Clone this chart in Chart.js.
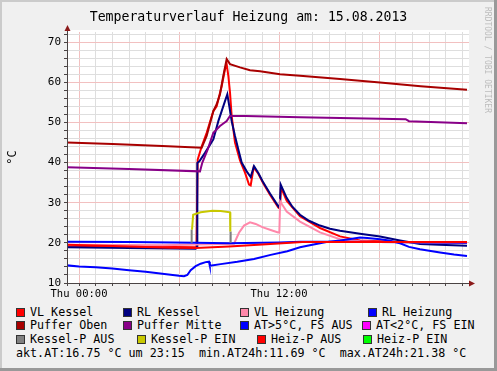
<!DOCTYPE html>
<html lang="de">
<head>
<meta charset="UTF-8">
<title>Temperaturverlauf Heizung</title>
<script src="https://cdn.jsdelivr.net/npm/chart.js"></script>
<style>
  body { margin: 0; background: #f0f0f0; }
  #wrap { position: relative; width: 497px; height: 371px; overflow: hidden; background: #f0f0f0;
          font-family: "DejaVu Sans Mono", monospace; color: #000; }
  #chart { position: absolute; left: 0; top: 0; }
  #title { position: absolute; left: 0; top: 8px; width: 497px; text-align: center; font-size: 13.2px;
           line-height: 17px; white-space: pre; }
  .edge { position: absolute; }
  .item { position: absolute; font-size: 11.7px; line-height: 14px; white-space: pre; }
  .item span.box { display: inline-block; width: 7px; height: 7px; border: 1px solid #333;
                   vertical-align: -1px; margin-right: 5px; }
  #mark { position: absolute; left: 482px; top: 7px; writing-mode: vertical-rl; font-size: 8px;
          color: #bcbcbc; line-height: 10px; }
</style>
</head>
<body>
<div id="wrap">
  <canvas id="chart" width="497" height="300"></canvas>
  <div id="title">Temperaturverlauf Heizung am: 15.08.2013</div>
  <div id="mark">RRDTOOL / TOBI OETIKER</div>
  <div id="legend"></div>
  <div class="edge" style="left:0;top:0;width:497px;height:2px;background:#cbcbcb"></div>
  <div class="edge" style="left:0;top:0;width:2px;height:371px;background:#cbcbcb"></div>
  <div class="edge" style="left:494px;top:0;width:3px;height:371px;background:#999"></div>
  <div class="edge" style="left:0;top:368px;width:497px;height:3px;background:#999"></div>
</div>
<script>
// time in hours relative to Thu 00:00, values in °C
const vlKessel = [[-0.75,19.3],[3,19.1],[7.05,18.9],[7.12,40.7],[7.36,44],[7.66,47.4],[8.06,52.8],[8.26,54],
  [8.56,59],[8.76,63.2],[8.86,64.5],[8.96,61.6],[9.06,57.4],[9.16,51.6],[9.36,45],[9.66,40.5],[9.96,37.5],
  [10.2,34.5],[10.3,34.3],[10.48,38.8],[10.76,37.2],[11.06,34.8],[11.46,32],[11.96,28.8],[12.06,28.5],
  [12.12,33.8],[12.46,30.5],[13.26,26.6],[14.46,23.7],[15.66,21.6],[16.86,20.6],[19.26,20.2],[23.28,20.0]];
const rlKessel = [[-0.75,18.9],[3,18.7],[7.0,18.5],[7.08,19],[7.1,39.9],[7.22,40.3],[7.56,42.4],[8.06,45.75],
  [8.36,50.3],[8.56,52.8],[8.76,55.3],[8.9,57],[9.02,54],[9.16,50.3],[9.36,46.6],[9.56,43.25],[9.76,40],
  [10.06,37.8],[10.3,36.4],[10.5,39.1],[10.76,37.4],[11.06,35],[11.46,32.3],[11.96,29.1],[12.04,28.7],
  [12.1,34.5],[12.46,31.2],[12.8,29],[13.26,27],[13.8,25.5],[14.46,24.3],[15.06,23.5],[15.66,23.0],
  [16.86,22.25],[18.06,21.6],[19.26,20.6],[20.46,19.7],[21.6,19.5],[23.28,19.3]];
const vlHeizung = [[-0.75,19.5],[5,19.4],[9.3,19.8],[9.6,22.5],[9.9,24.3],[10.26,25.1],[10.6,24.7],[11.0,23.9],
  [11.5,23.2],[11.95,22.6],[12.02,22.6],[12.07,30.3],[12.2,29.5],[12.46,27.8],[13.26,25.3],[14.46,22.6],
  [15.66,20.9],[16.86,20.4],[18,20.2],[23.28,20.0]];
const rlHeizung = [[-0.75,20.3],[3,20.2],[7,20.0],[9,19.9],[12,20.1],[13.3,20.3],[15.7,20.3],[18,20.2],[23.28,20.0]];
const pufferOben = [[-0.75,45],[2,44.6],[5,44.1],[7.36,43.7],[7.66,46.6],[8.06,52.8],[8.26,54.5],[8.46,57],
  [8.66,61.6],[8.86,65.75],[9.06,64.5],[9.66,63.7],[10.26,63.0],[10.86,62.7],[12.06,62.0],[13.26,61.6],
  [15.66,60.8],[18.06,59.9],[20.5,59.0],[23.28,58.1]];
const pufferMitte = [[-0.75,38.8],[3,38.4],[7.26,37.8],[7.4,40],[7.7,43],[8.06,47.4],[8.46,49.1],[8.86,50.3],
  [9.06,51.6],[10,51.6],[13.26,51.3],[18.06,50.9],[19.6,50.8],[19.8,50.3],[23.28,49.8]];
const atWarm = [[-0.75,14.4],[0,14.1],[1,13.9],[2,13.6],[3,13.2],[4,12.8],[5,12.3],[6,11.8],[6.3,11.7],
  [6.5,12.0],[6.7,13.2],[7.0,14.2],[7.3,14.8],[7.6,15.2],[7.8,15.3],[7.85,14.3],[8.5,14.7],[9.5,15.3],
  [10.5,16.0],[11.5,17.0],[12.5,17.9],[13.26,18.9],[14.0,19.5],[14.46,19.9],[15.0,20.3],[15.66,20.6],
  [16.2,20.9],[16.86,21.3],[17.3,21.2],[18.06,20.9],[18.6,20.6],[19.26,19.9],[19.8,19.0],[20.46,18.4],
  [21.2,17.9],[21.66,17.6],[22.5,17.1],[23.28,16.75]];
const atCold = [];
const kesselPAus = [[6.76,20.0],[6.76,23.3],[6.8,null],[9.1,22.8],[9.1,20.0]];
const kesselPEin = [[6.78,23.3],[6.85,27],[7.3,27.6],[8.0,28],[8.5,27.9],[9.06,27.6],[9.08,22.8]];
const heizPAus = [[-0.75,19.5],[2,19.2],[5.5,18.8],[7,18.7],[9,19.1],[11,19.6],[13.4,20.2],[23.28,20.2]];
const heizPEin = [];

const yLabels = [10, 20, 30, 40, 50, 60, 70];
const xLabelHours = [0, 12];
const xLabels = ['Thu 00:00', 'Thu 12:00'];
const atNow = '16.75', atNowTime = '23:15', atMin = '11.69', atMax = '21.38';

const series = [
  { name: 'VL Kessel', data: vlKessel, color: '#ff0000' },
  { name: 'RL Kessel', data: rlKessel, color: '#000080' },
  { name: 'VL Heizung', data: vlHeizung, color: '#ff88aa' },
  { name: 'RL Heizung', data: rlHeizung, color: '#0000ff' },
  { name: 'Puffer Oben', data: pufferOben, color: '#a80000' },
  { name: 'Puffer Mitte', data: pufferMitte, color: '#880088' },
  { name: 'AT>5°C, FS AUS', data: atWarm, color: '#0000ff' },
  { name: 'AT<2°C, FS EIN', data: atCold, color: '#ff00ff' },
  { name: 'Kessel-P AUS', data: kesselPAus, color: '#808080' },
  { name: 'Kessel-P EIN', data: kesselPEin, color: '#c8c800' },
  { name: 'Heiz-P AUS', data: heizPAus, color: '#ff0000' },
  { name: 'Heiz-P EIN', data: heizPEin, color: '#00ff00' }
];

// legend layout (rrdtool justifies each row)
const legendX = [[16, 123, 240, 368], [16, 123, 240, 362], [16, 137, 257, 363]];
const legendY = [305, 318, 332];
const legend = document.getElementById('legend');
series.forEach((s, i) => {
  const row = Math.floor(i / 4), col = i % 4;
  const d = document.createElement('div');
  d.className = 'item';
  d.style.left = legendX[row][col] + 'px';
  d.style.top = legendY[row] + 'px';
  d.innerHTML = '<span class="box" style="background:' + s.color + '"></span>';
  d.appendChild(document.createTextNode(s.name));
  legend.appendChild(d);
});
const info = document.createElement('div');
info.className = 'item';
info.style.left = '16px';
info.style.top = '346px';
info.textContent = 'akt.AT:' + atNow + ' °C um ' + atNowTime + '  min.AT24h:' + atMin + ' °C  max.AT24h:' + atMax + ' °C';
legend.appendChild(info);

const mono = '"DejaVu Sans Mono", monospace';

const rrdFrame = {
  id: 'rrdFrame',
  beforeDraw(chart) {
    const a = chart.chartArea, c = chart.ctx;
    c.save();
    c.fillStyle = '#ffffff';
    c.fillRect(a.left, a.top - 2, a.right - a.left, a.bottom - a.top + 2);
    c.restore();
  },
  afterDraw(chart) {
    const a = chart.chartArea, c = chart.ctx;
    c.save();
    c.strokeStyle = '#4a4444';
    c.lineWidth = 1;
    c.beginPath();
    c.moveTo(a.left - 3, a.bottom + 0.5);
    c.lineTo(a.right + 2, a.bottom + 0.5);
    c.moveTo(a.left + 0.5, a.bottom + 3);
    c.lineTo(a.left + 0.5, a.top - 3);
    c.stroke();
    c.fillStyle = '#8b1a1a';
    c.beginPath();
    c.moveTo(a.right, a.bottom - 2.5);
    c.lineTo(a.right + 6, a.bottom + 0.5);
    c.lineTo(a.right, a.bottom + 3.5);
    c.fill();
    c.beginPath();
    c.moveTo(a.left - 2.5, a.top - 1);
    c.lineTo(a.left + 0.5, a.top - 7);
    c.lineTo(a.left + 3.5, a.top - 1);
    c.fill();
    c.restore();
  }
};

new Chart(document.getElementById('chart'), {
  type: 'line',
  data: {
    datasets: series.map((s, i) => ({
      label: s.name,
      data: s.data.map(p => ({ x: p[0], y: p[1] })),
      borderColor: s.color,
      backgroundColor: s.color,
      borderWidth: 2,
      pointRadius: 0,
      tension: 0,
      spanGaps: false,
      order: series.length - i
    }))
  },
  options: {
    responsive: false,
    animation: false,
    layout: { padding: { left: 0, right: 28, top: 32, bottom: 0 } },
    plugins: {
      legend: { display: false },
      tooltip: { enabled: false },
      title: { display: false }
    },
    scales: {
      x: {
        type: 'linear',
        min: -0.72,
        max: 23.4,
        afterBuildTicks(scale) {
          const t = [];
          for (let h = 0; h <= 23; h++) t.push({ value: h });
          scale.ticks = t;
        },
        afterFit(scale) { scale.height = 17; },
        ticks: {
          autoSkip: false,
          maxRotation: 0,
          color: '#000',
          font: { family: mono, size: 10.5 },
          padding: 2,
          callback(v) {
            const k = xLabelHours.indexOf(v);
            return k >= 0 ? xLabels[k] : '';
          }
        },
        grid: {
          color: ctx => (ctx.tick && ctx.tick.value % 6 === 0) ? '#f2c0c0' : '#dedede',
          tickColor: '#4a4444',
          tickLength: 3
        },
        border: { display: false }
      },
      y: {
        min: 10,
        max: 72.5,
        afterBuildTicks(scale) {
          const t = [];
          for (let v = 10; v <= 72; v += 2) t.push({ value: v });
          scale.ticks = t;
        },
        afterFit(scale) { scale.width = 67; },
        ticks: {
          autoSkip: false,
          color: '#000',
          font: { family: mono, size: 11 },
          padding: 3,
          callback(v) { return yLabels.includes(v) ? String(v) : ''; }
        },
        grid: {
          color: ctx => (ctx.tick && ctx.tick.value % 10 === 0) ? '#f2c0c0' : '#dedede',
          tickColor: '#4a4444',
          tickLength: 3
        },
        border: { display: false },
        title: {
          display: true,
          text: '°C',
          color: '#000',
          font: { family: mono, size: 12 },
          padding: { top: 6, bottom: 0 }
        }
      }
    }
  },
  plugins: [rrdFrame]
});
</script>
</body>
</html>
